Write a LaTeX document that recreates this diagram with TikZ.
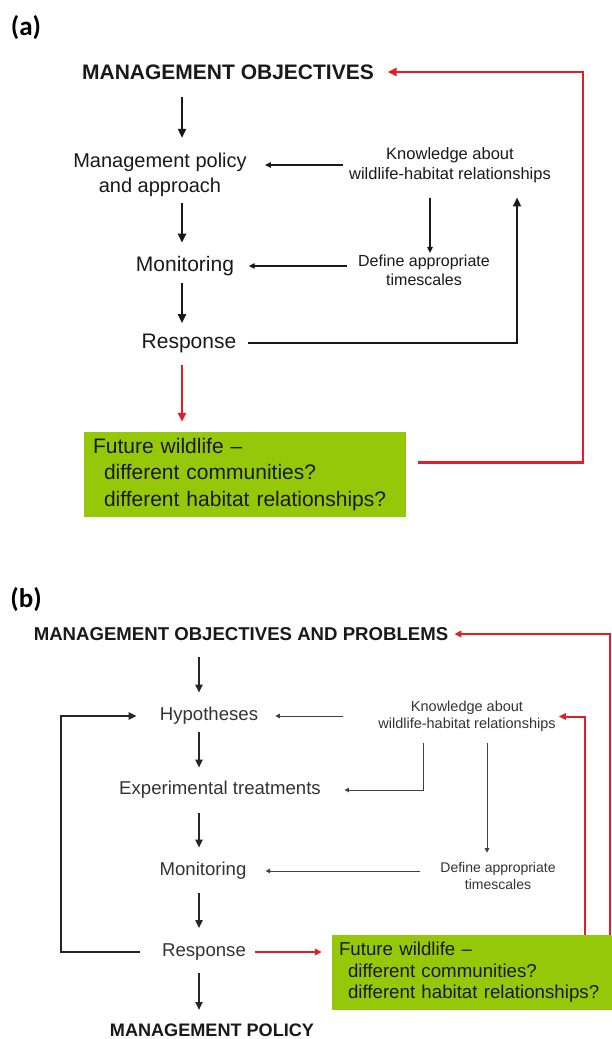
\documentclass[tikz,border=0pt]{standalone}
\usepackage{fontspec}
\setmainfont{Liberation Sans}
\newfontfamily\labfont{Carlito}
\usetikzlibrary{arrows.meta}
\definecolor{myred}{RGB}{228,30,38}
\definecolor{mygreen}{RGB}{150,200,10}
\begin{document}
\begin{tikzpicture}[x=1pt,y=-1pt,
  tA/.style={inner sep=0pt, align=center, text=black!90},
  tB/.style={inner sep=0pt, align=center, text=black!80},
  lab/.style={inner sep=0pt, font=\labfont\bfseries\fontsize{27}{30}\selectfont},
  gbox/.style={fill=mygreen, inner ysep=0pt, align=left, text=black!90},
  blk/.style={draw=black!90, line width=2.2pt, -{Triangle[length=9pt,width=8pt]}},
  blkb/.style={draw=black!85, line width=2pt, -{Triangle[length=8pt,width=7pt]}},
  thin/.style={draw=black!90, line width=1.1pt, -{Triangle[length=6pt,width=5.5pt]}},
  thinb/.style={draw=black!75, line width=1pt, -{Triangle[length=4.5pt,width=4.5pt]}},
  redA/.style={draw=myred, line width=2.4pt, -{Triangle[length=9pt,width=8pt]}},
  redB/.style={draw=myred, line width=2pt, -{Triangle[length=7pt,width=6.5pt]}}
]
\useasboundingbox (0,0) rectangle (612,1039);

% ---------- (a) ----------
\node[lab] (la) at (26,28) {(a)};
\node[tA, font=\bfseries\fontsize{21}{25}\selectfont] (mo) at (228,72) {MANAGEMENT OBJECTIVES};
\node[tA, font=\fontsize{20}{25}\selectfont] (mp) at (160,174.5) {Management policy\\and approach};
\node[tA, font=\fontsize{16.5}{20}\selectfont] (k) at (450,165) {Knowledge about\\wildlife-habitat relationships};
\node[tA, font=\fontsize{16}{19}\selectfont] (d) at (424,270) {Define appropriate\\timescales};
\node[tA, font=\fontsize{21}{25}\selectfont] (mon) at (185,266) {Monitoring};
\node[tA, font=\fontsize{21}{25}\selectfont] (resp) at (189,343) {Response};
\node[gbox, inner xsep=9pt, text width=304pt, minimum height=85pt,
      font=\fontsize{21}{26.5}\selectfont] (ga) at (245,474.5)
  {Future wildlife --\\\hspace*{11pt}different communities?\\\hspace*{11pt}different habitat relationships?};

\coordinate (colA) at (182,0);
\coordinate (colK) at (430,0);
\coordinate (colB) at (517,0);
\coordinate (colR) at (583,0);

\draw[blk, shorten <=17pt, shorten >=14.7pt] (mo.south -| colA) -- (mp.north -| colA);
\draw[blk, shorten <=6.8pt, shorten >=13.3pt] (mp.south -| colA) -- (mon.north -| colA);
\draw[blk, shorten <=7.3pt, shorten >=10.3pt] (mon.south -| colA) -- (resp.north -| colA);
\draw[redA, shorten <=12.3pt, shorten >=10pt] (resp.south -| colA) -- (ga.north -| colA);
\draw[thin, shorten <=6pt, shorten >=18pt] (k.west) -- (k.west -| mp.east);
\draw[thin, shorten <=15.6pt, shorten >=1.5pt] (k.south -| colK) -- (d.north -| colK);
\draw[thin, shorten <=11pt, shorten >=14.5pt] (mon -| d.west) -- (mon.east);
\draw[blk, shorten <=11.5pt, shorten >=14.6pt] (resp.east) -| (k.south -| colB);
\draw[redA, shorten <=12pt, shorten >=13.5pt] ([yshift=12pt]ga.east) -| (mo.east -| colR) -- (mo.east);

% ---------- (b) ----------
\node[lab] (lb) at (26,600) {(b)};
\node[tB, text=black!90, font=\bfseries\fontsize{18.6}{22}\selectfont] (mo2) at (241,634) {MANAGEMENT OBJECTIVES AND PROBLEMS};
\node[tB, font=\fontsize{18.6}{22}\selectfont] (hyp) at (209,716) {Hypotheses};
\node[tB, font=\fontsize{14.5}{17}\selectfont] (k2) at (467,716.5) {Knowledge about\\wildlife-habitat relationships};
\node[tB, font=\fontsize{18.6}{22}\selectfont] (exp) at (220,790) {Experimental treatments};
\node[tB, font=\fontsize{18.6}{22}\selectfont] (mon2) at (203,871) {Monitoring};
\node[tB, font=\fontsize{14}{17}\selectfont] (d2) at (498,876) {Define appropriate\\timescales};
\node[tB, font=\fontsize{18.6}{22}\selectfont] (resp2) at (204,952) {Response};
\node[tB, text=black!90, font=\bfseries\fontsize{18.1}{22}\selectfont] (mp2) at (212,1030) {MANAGEMENT POLICY};
\node[gbox, inner xsep=7pt, text width=266pt, minimum height=75pt,
      font=\fontsize{18.7}{21.5}\selectfont] (gb) at (472,972.5)
  {Future wildlife --\\\hspace*{9pt}different communities?\\\hspace*{9pt}different habitat relationships?};

\coordinate (colB2) at (199,0);
\coordinate (colL) at (61,0);
\coordinate (colK1) at (423,0);
\coordinate (colK2) at (487,0);
\coordinate (colR2) at (609.5,0);
\coordinate (colR3) at (585,0);

\draw[blkb, shorten <=16pt, shorten >=14.4pt] (mo2.south -| colB2) -- (hyp.north -| colB2);
\draw[blkb, shorten <=7.4pt, shorten >=13.4pt] (hyp.south -| colB2) -- (exp.north -| colB2);
\draw[blkb, shorten <=14.4pt, shorten >=14.4pt] (exp.south -| colB2) -- (mon2.north -| colB2);
\draw[blkb, shorten <=13.4pt, shorten >=15.4pt] (mon2.south -| colB2) -- (resp2.north -| colB2);
\draw[blkb, shorten <=12.4pt, shorten >=13.4pt] (resp2.south -| colB2) -- (mp2.north -| colB2);
\draw[thinb, shorten <=35.5pt, shorten >=17pt] (hyp -| k2.west) -- (hyp.east);
\draw[blkb, shorten <=22pt, shorten >=23pt] (resp2.west) -| (hyp.west -| colL) -- (hyp.west);
\draw[thinb, shorten <=11.5pt, shorten >=23.5pt] (k2.south -| colK1) |- (exp.east);
\draw[thinb, shorten <=11.5pt, shorten >=9.5pt] (k2.south -| colK2) -- (d2.north -| colK2);
\draw[thinb, shorten <=20pt, shorten >=19pt] (mon2 -| d2.west) -- (mon2.east);
\draw[redB, shorten <=8.5pt, shorten >=10pt] (resp2.east) -- (resp2.east -| gb.west);
\draw[redB, shorten >=6pt] (gb.north -| colR2) |- (mo2.east);
\draw[redB, shorten >=3pt] (gb.north -| colR3) |- (k2.east);
\end{tikzpicture}
\end{document}
